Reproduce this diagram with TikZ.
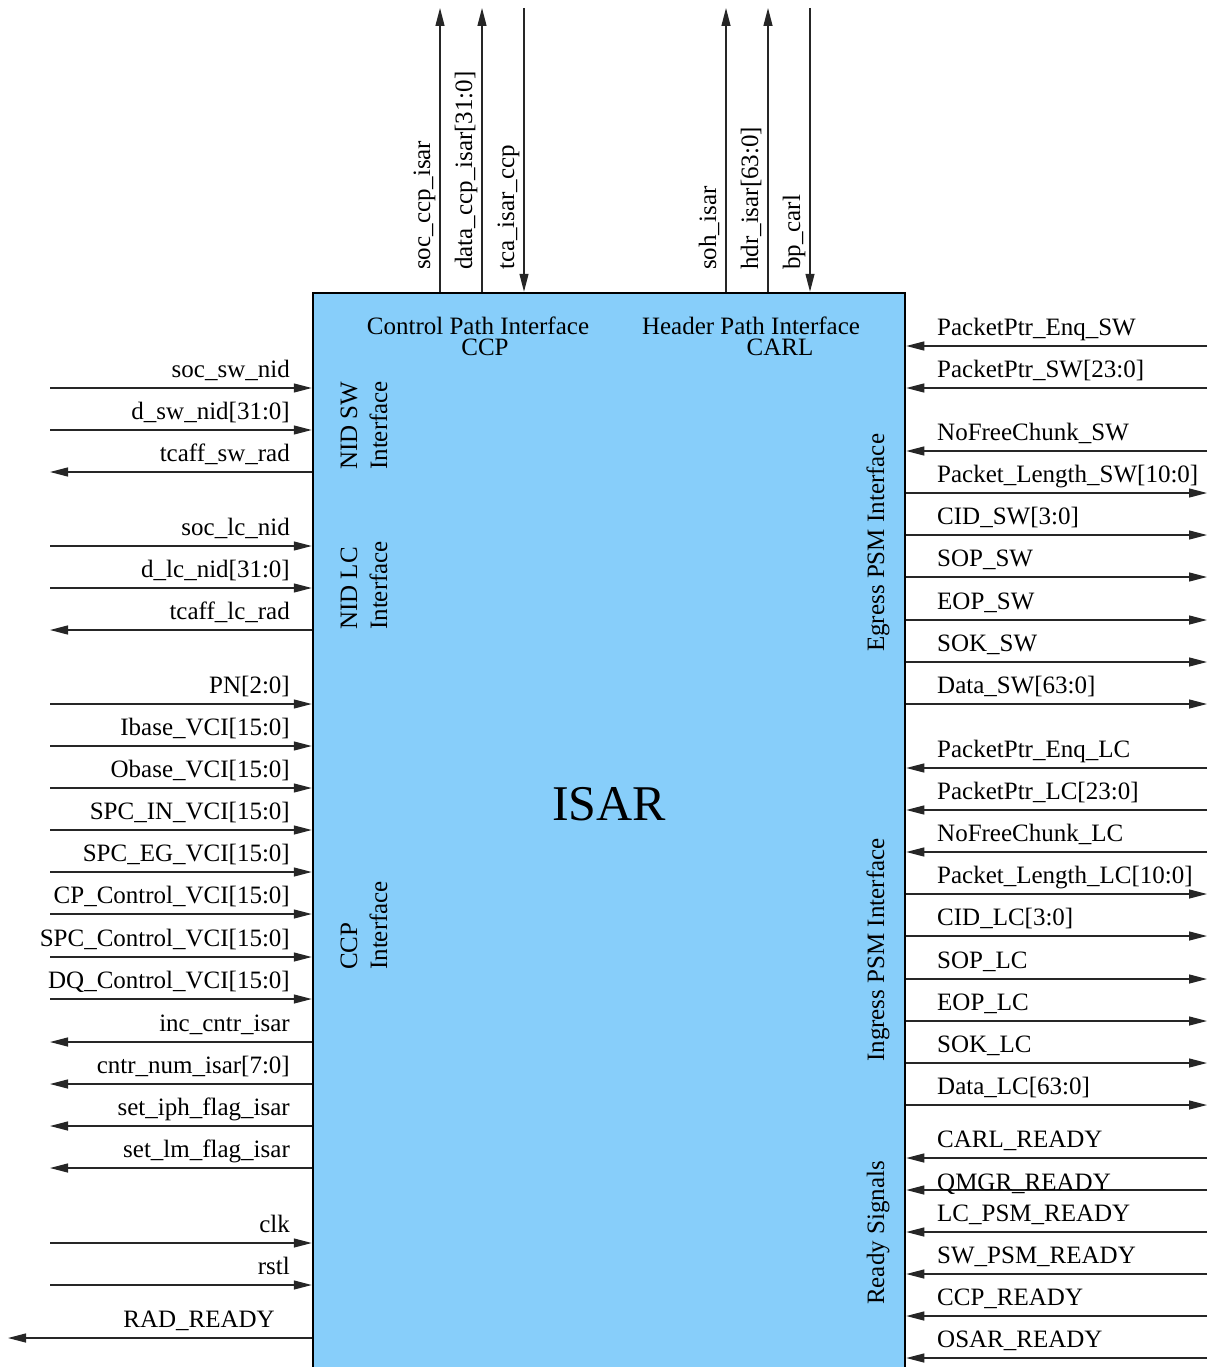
\documentclass[tikz,border=0pt]{standalone}
\usepackage{fontspec}
\setmainfont{Liberation Serif}
\usetikzlibrary{arrows.meta}
\definecolor{chipblue}{HTML}{87CEFA}

\begin{document}
\begin{tikzpicture}[x=1pt, y=-1pt, font=\fontsize{25}{30}\selectfont,
  >={Triangle[length=18pt,width=9pt]},
  chip/.style={draw, line width=2.5pt, fill=chipblue, minimum width=592pt, minimum height=1080pt, inner sep=0pt},
  sig/.style={draw=black!85, line width=1.3pt},
  sin/.style={sig, ->}, sout/.style={sig, <-},
  wlab/.style={anchor=base east, inner sep=0pt},
  elab/.style={anchor=base west, inner sep=0pt},
  vlab/.style={rotate=90, anchor=base west, inner sep=0pt}]
\useasboundingbox (0,0) rectangle (1207,1367);
\node[chip] (isar) at (609,833) {};
\node[anchor=base, inner sep=0pt, font=\fontsize{50}{60}\selectfont] (name) at (609,820) {ISAR};
\node[anchor=base, inner sep=0pt] (ccpif) at (478,334) {Control Path Interface};
\node[anchor=base, inner sep=0pt] (ccp) at (485,355) {CCP};
\node[anchor=base, inner sep=0pt] (carlif) at (751,334) {Header Path Interface};
\node[anchor=base, inner sep=0pt] (carl) at (780,355) {CARL};
\node[vlab] (nidsw) at (357,470) {NID SW};
\node[vlab] (nidswif) at (387,470) {Interface};
\node[vlab] (nidlc) at (357,630) {NID LC};
\node[vlab] (nidlcif) at (387,630) {Interface};
\node[vlab] (ccpl) at (357,970) {CCP};
\node[vlab] (ccplif) at (387,970) {Interface};
\node[vlab] (egress) at (884,652) {Egress PSM Interface};
\node[vlab] (ingress) at (884,1062) {Ingress PSM Interface};
\node[vlab] (ready) at (884,1305) {Ready Signals};
\foreach \x/\txt/\dir [count=\i] in {440/soc\_ccp\_isar/sout, 482/data\_ccp\_isar[31:0]/sout, 524/tca\_isar\_ccp/sin,
    726/soh\_isar/sout, 768/hdr\_isar[63:0]/sout, 810/bp\_carl/sin}{
  \coordinate (n\i) at (\x,8);
  \draw[\dir] (n\i) -- (n\i |- isar.north);
  \node[vlab] (nl\i) at (\x-10,270) {\txt};
}
\foreach \y/\txt/\dir [count=\i] in {388/soc\_sw\_nid/sin, 430/d\_sw\_nid[31:0]/sin, 472/tcaff\_sw\_rad/sout,
    546/soc\_lc\_nid/sin, 588/d\_lc\_nid[31:0]/sin, 630/tcaff\_lc\_rad/sout,
    704/PN[2:0]/sin, 746/Ibase\_VCI[15:0]/sin, 788/Obase\_VCI[15:0]/sin, 830/SPC\_IN\_VCI[15:0]/sin,
    872/SPC\_EG\_VCI[15:0]/sin, 914/CP\_Control\_VCI[15:0]/sin, 957/SPC\_Control\_VCI[15:0]/sin,
    999/DQ\_Control\_VCI[15:0]/sin, 1042/inc\_cntr\_isar/sout, 1084/cntr\_num\_isar[7:0]/sout,
    1126/set\_iph\_flag\_isar/sout, 1168/set\_lm\_flag\_isar/sout, 1243/clk/sin, 1285/rstl/sin}{
  \coordinate (w\i) at (50,\y);
  \draw[\dir] (w\i) -- (w\i -| isar.west);
  \node[wlab] (wl\i) at (290,\y-11) {\txt};
}
\coordinate (radout) at (8,1338);
\draw[sout] (radout) -- (radout -| isar.west);
\node[wlab] (radlab) at (275,1327) {RAD\_READY};
\foreach \y/\txt/\dir [count=\i] in {346/PacketPtr\_Enq\_SW/sin, 388/PacketPtr\_SW[23:0]/sin, 451/NoFreeChunk\_SW/sin,
    493/Packet\_Length\_SW[10:0]/sout, 535/CID\_SW[3:0]/sout, 577/SOP\_SW/sout, 620/EOP\_SW/sout,
    662/SOK\_SW/sout, 704/Data\_SW[63:0]/sout,
    768/PacketPtr\_Enq\_LC/sin, 810/PacketPtr\_LC[23:0]/sin, 852/NoFreeChunk\_LC/sin,
    894/Packet\_Length\_LC[10:0]/sout, 936/CID\_LC[3:0]/sout, 979/SOP\_LC/sout, 1021/EOP\_LC/sout,
    1063/SOK\_LC/sout, 1105/Data\_LC[63:0]/sout,
    1158/CARL\_READY/sin, 1232/LC\_PSM\_READY/sin, 1274/SW\_PSM\_READY/sin, 1316/CCP\_READY/sin, 1358/OSAR\_READY/sin}{
  \coordinate (e\i) at (1207,\y);
  \draw[\dir] (e\i) -- (e\i -| isar.east);
  \node[elab] (el\i) at (937,\y-11) {\txt};
}
\coordinate (qmgr) at (1207,1190);
\draw[sin] (qmgr) -- (qmgr -| isar.east);
\node[elab] (qmgrlab) at (937,1190) {QMGR\_READY};
\end{tikzpicture}
\end{document}
